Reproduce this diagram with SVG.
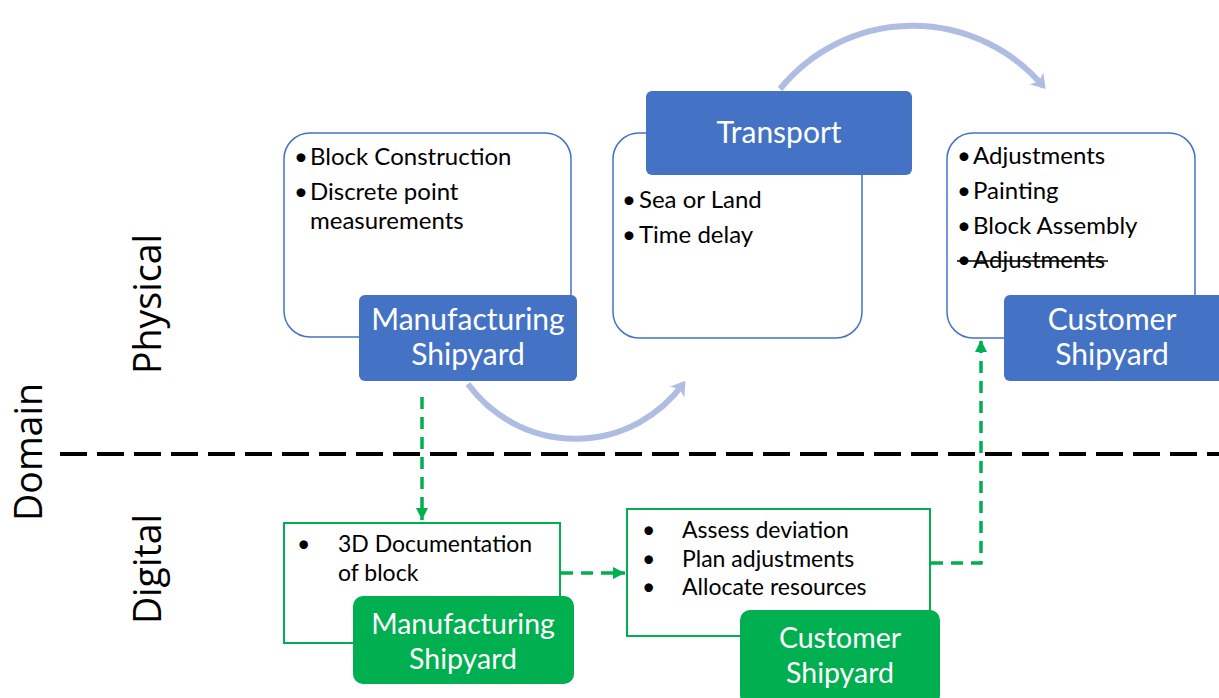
<svg xmlns="http://www.w3.org/2000/svg" width="1219" height="698" viewBox="0 0 1219 698">
  <defs>
    <style>
      .frame { fill: #ffffff; stroke: #4472C4; stroke-width: 1.5; }
      .tag { fill: #4472C4; }
      .tag-text { fill: #ffffff; font-family: Lato, "Open Sans", sans-serif; font-size: 30px; text-anchor: middle; }
      .item { fill: #000000; font-family: Lato, "Open Sans", sans-serif; font-size: 24px; }
      .dframe { fill: #ffffff; stroke: #00B050; stroke-width: 2; }
      .dtag { fill: #00B050; }
      .dtag-text { fill: #ffffff; font-family: Lato, "Open Sans", sans-serif; font-size: 28.5px; text-anchor: middle; }
      .ditem { fill: #000000; font-family: Lato, "Open Sans", sans-serif; font-size: 23px; }
      .axis { fill: #000000; font-family: "Open Sans", Lato, sans-serif; font-size: 37.5px; text-anchor: middle; }
      .flow { fill: none; stroke: #B0BDE3; stroke-width: 6; }
      .link { fill: none; stroke: #00B050; stroke-width: 3.5; stroke-dasharray: 12 8; }
    </style>
    <marker id="flowHead" markerUnits="userSpaceOnUse" markerWidth="24" markerHeight="24" refX="12" refY="12" orient="auto">
      <path d="M2 3 L16 12 L2 21 L6 12 Z" fill="#B0BDE3"/>
    </marker>
    <marker id="linkHead" markerUnits="userSpaceOnUse" markerWidth="14" markerHeight="14" refX="12" refY="7" orient="auto">
      <path d="M0 1 L12 7 L0 13 Z" fill="#00B050"/>
    </marker>
  </defs>

  <!-- domain axis labels -->
  <g id="axis-labels">
    <text class="axis" transform="translate(42,452) rotate(-90)">Domain</text>
    <text class="axis" transform="translate(161,304) rotate(-90)">Physical</text>
    <text class="axis" transform="translate(161,569) rotate(-90)">Digital</text>
  </g>

  <!-- boundary between physical and digital -->
  <line x1="60" y1="454" x2="1219" y2="454" stroke="#000000" stroke-width="4" stroke-dasharray="27 10"/>

  <!-- physical: manufacturing shipyard -->
  <g id="phys-manufacturing">
    <rect class="frame" x="284" y="133" width="287" height="204" rx="26"/>
    <text class="item" x="294" y="165">•</text>
    <text class="item" x="310" y="165">Block Construction</text>
    <text class="item" x="294" y="200">•</text>
    <text class="item" x="310" y="200">Discrete point</text>
    <text class="item" x="310" y="229">measurements</text>
    <rect class="tag" x="359" y="295" width="218" height="86" rx="6"/>
    <text class="tag-text" x="468" y="330">Manufacturing</text>
    <text class="tag-text" x="468" y="365">Shipyard</text>
  </g>

  <!-- physical: transport -->
  <g id="phys-transport">
    <rect class="frame" x="613" y="133" width="249" height="205" rx="26"/>
    <text class="item" x="622" y="208">•</text>
    <text class="item" x="639" y="208">Sea or Land</text>
    <text class="item" x="622" y="243">•</text>
    <text class="item" x="639" y="243">Time delay</text>
    <rect class="tag" x="646" y="91" width="266" height="84" rx="6"/>
    <text class="tag-text" x="779" y="143">Transport</text>
  </g>

  <!-- physical: customer shipyard -->
  <g id="phys-customer">
    <rect class="frame" x="947" y="133" width="248" height="205" rx="26"/>
    <text class="item" x="957" y="164">•</text>
    <text class="item" x="973" y="164">Adjustments</text>
    <text class="item" x="957" y="199">•</text>
    <text class="item" x="973" y="199">Painting</text>
    <text class="item" x="957" y="234">•</text>
    <text class="item" x="973" y="234">Block Assembly</text>
    <text class="item" x="957" y="268">•</text>
    <text class="item" x="973" y="268">Adjustments</text>
    <line x1="957" y1="261" x2="1108" y2="261" stroke="#000000" stroke-width="1.6"/>
    <rect class="tag" x="1004" y="295" width="222" height="86" rx="6"/>
    <text class="tag-text" x="1112" y="330">Customer</text>
    <text class="tag-text" x="1112" y="365">Shipyard</text>
  </g>

  <!-- digital: manufacturing shipyard -->
  <g id="dig-manufacturing">
    <rect class="dframe" x="284" y="523" width="276" height="120"/>
    <text class="ditem" x="297" y="552">•</text>
    <text class="ditem" x="338" y="552">3D Documentation</text>
    <text class="ditem" x="338" y="581">of block</text>
    <rect class="dtag" x="353" y="596" width="221" height="88" rx="10"/>
    <text class="dtag-text" x="463" y="634">Manufacturing</text>
    <text class="dtag-text" x="463" y="669">Shipyard</text>
  </g>

  <!-- digital: customer shipyard -->
  <g id="dig-customer">
    <rect class="dframe" x="627" y="509" width="303" height="127"/>
    <text class="ditem" x="642" y="538">•</text>
    <text class="ditem" x="682" y="538">Assess deviation</text>
    <text class="ditem" x="642" y="567">•</text>
    <text class="ditem" x="682" y="567">Plan adjustments</text>
    <text class="ditem" x="642" y="595">•</text>
    <text class="ditem" x="682" y="595">Allocate resources</text>
    <rect class="dtag" x="740" y="610" width="200" height="95" rx="10"/>
    <text class="dtag-text" x="840" y="648">Customer</text>
    <text class="dtag-text" x="840" y="683">Shipyard</text>
  </g>

  <!-- connectors -->
  <g id="connectors">
    <path class="flow" d="M 468 384 A 133 133 0 0 0 683 384" marker-end="url(#flowHead)"/>
    <path class="flow" d="M 780 89 A 171 171 0 0 1 1043 86" marker-end="url(#flowHead)"/>
    <path class="link" d="M 422 397 L 422 520" marker-end="url(#linkHead)"/>
    <path class="link" d="M 561 573 L 625 573" marker-end="url(#linkHead)"/>
    <path class="link" d="M 931 563 L 981 563 L 981 340" marker-end="url(#linkHead)"/>
  </g>
</svg>
